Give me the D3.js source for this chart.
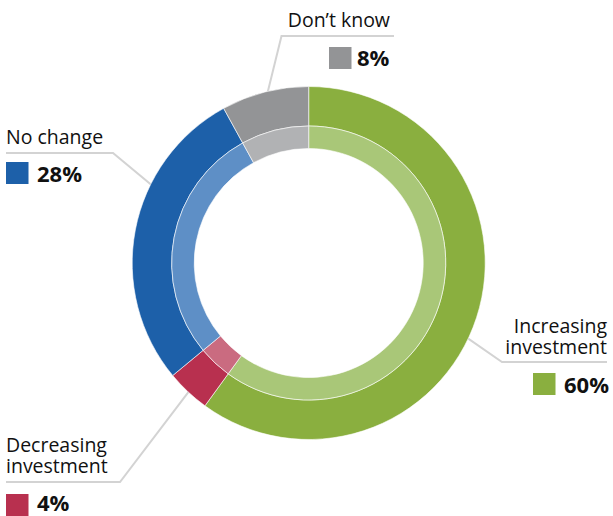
<!DOCTYPE html>
<html>
<head>
<meta charset="utf-8">
<script src="https://cdn.jsdelivr.net/npm/d3@7"></script>
<style>
  html, body { margin: 0; padding: 0; background: #fff; }
  svg { display: block; }
  text { font-family: "Open Sans", "Noto Sans", sans-serif; fill: #111; }
</style>
</head>
<body>
<svg id="chart" width="613" height="516"></svg>
<script>
// Survey answers, in clockwise order from 12 o'clock
const categories = ["Increasing investment", "Decreasing investment", "No change", "Don’t know"];
const values = [60, 4, 28, 8];
const outerColors = ["#8AAF3F", "#B8304F", "#1D60A9", "#939496"];
const innerColors = ["#A9C778", "#CA6B80", "#5E8FC6", "#B1B2B4"];

const W = 613, H = 516;
const cx = 308.7, cy = 263;
const rOuter = 176.5, rMid = 137, rInner = 114.5;

const svg = d3.select("#chart");

// Callout layout for each category (text lines, leader elbow, legend swatch)
const layout = [
  { lines: ["Increasing", "investment"], anchor: "end", tx: 607, ty: 333,
    angle: 115, elbow: [502, 362], end: 607, sq: [533, 373], px: 564, py: 393 },
  { lines: ["Decreasing", "investment"], anchor: "start", tx: 6, ty: 452,
    angle: null, elbow: [120, 482], end: 6, sq: [6, 494], px: 37, py: 511 },
  { lines: ["No change"], anchor: "start", tx: 6, ty: 144,
    angle: 296, elbow: [113, 153], end: 6, sq: [6, 162], px: 37, py: 182 },
  { lines: ["Don’t know"], anchor: "end", tx: 390, ty: 27,
    angle: null, elbow: [281.5, 36], end: 394, sq: [329, 47], px: 357, py: 66 }
];
const lineGap = 21;

const pie = d3.pie().sort(null).value(d => d).startAngle(0).endAngle(2 * Math.PI);
const slices = pie(values);

// Leader lines go underneath the ring
const leaders = svg.append("g");
slices.forEach((s, i) => {
  const L = layout[i];
  const a = L.angle != null ? L.angle * Math.PI / 180 : (s.startAngle + s.endAngle) / 2;
  const r = rOuter - 6;
  const p0 = [cx + r * Math.sin(a), cy - r * Math.cos(a)];
  leaders.append("polyline")
    .attr("points", [p0, L.elbow, [L.end, L.elbow[1]]].map(p => p.join(",")).join(" "))
    .attr("fill", "none")
    .attr("stroke", "#D3D3D3")
    .attr("stroke-width", 2);
});

const ring = svg.append("g").attr("transform", `translate(${cx},${cy})`);
const arcOuter = d3.arc().innerRadius(rMid).outerRadius(rOuter);
const arcInner = d3.arc().innerRadius(rInner).outerRadius(rMid);

ring.selectAll("path.outer").data(slices).join("path")
  .attr("class", "outer")
  .attr("d", arcOuter)
  .attr("fill", (d, i) => outerColors[i])
  .attr("stroke", "#fff").attr("stroke-width", 0.6);

ring.selectAll("path.inner").data(slices).join("path")
  .attr("class", "inner")
  .attr("d", arcInner)
  .attr("fill", (d, i) => innerColors[i])
  .attr("stroke", "#fff").attr("stroke-width", 0.6);

// Labels with coloured swatch and bold percentage
const labels = svg.append("g");
categories.forEach((c, i) => {
  const L = layout[i];
  const t = labels.append("text")
    .attr("text-anchor", L.anchor)
    .attr("font-size", 19.5);
  L.lines.forEach((line, j) => {
    t.append("tspan")
      .attr("x", L.tx).attr("y", L.ty + j * lineGap)
      .text(line);
  });
  labels.append("rect")
    .attr("x", L.sq[0]).attr("y", L.sq[1])
    .attr("width", 22.5).attr("height", 22)
    .attr("fill", outerColors[i]);
  labels.append("text")
    .attr("x", L.px).attr("y", L.py)
    .attr("font-size", 22)
    .attr("font-weight", 700)
    .text(values[i] + "%");
});
</script>
</body>
</html>
